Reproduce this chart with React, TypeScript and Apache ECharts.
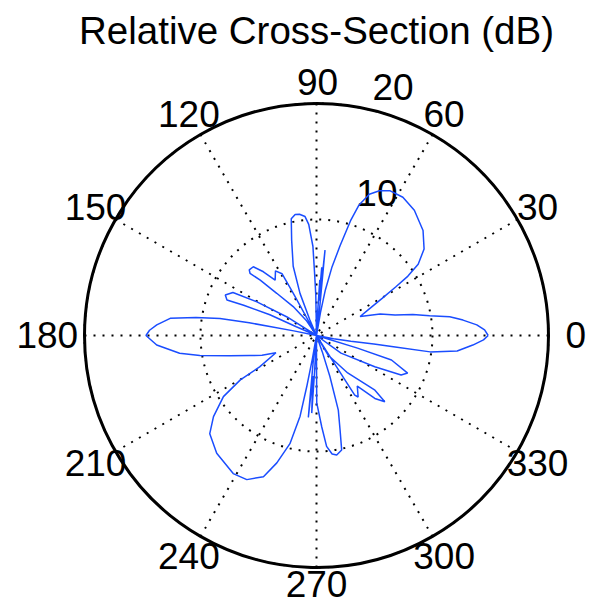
import React, { useEffect, useRef } from "react";
import * as echarts from "echarts";

const TITLE = "Relative Cross-Section (dB)";
const ANGLE_TICKS = [0, 30, 60, 90, 120, 150, 180, 210, 240, 270, 300, 330];
const RADIUS_TICKS = [10, 20];
const R_MAX = 20;

// Pattern outline, traced lobe by lobe counter-clockwise: [angle (deg), level]
const lobeEastUpper = [
  [0, 14.8], [1.9, 14.5], [3.8, 13.85], [6, 12.7], [8, 11.6], [9.9, 9.9],
  [12.3, 8.5], [14.6, 7.0], [18.7, 5.8], [23.5, 4.1],
];
const lobeNorthEast = [
  [26.5, 5.0], [29.5, 6.5], [31.5, 8.0], [33, 9.4], [35, 10.7], [38.8, 11.9],
  [44.6, 12.9], [52, 13.7], [58, 14.05], [63, 14.0], [66.5, 13.6], [69.5, 13.0],
  [72, 11.8], [73.5, 10.3], [75.3, 8.0], [77.3, 6.0], [79, 4.0], [80.2, 2.0], [81, 0],
];
const spikesNorth = [
  [83.5, 2.5], [84.3, 7.4], [84.8, 3.5], [85.6, 5.9], [86.1, 3.0], [86.6, 4.8],
  [87.5, 1.5], [89, 0],
];
const lobeNorth = [
  [91, 3.5], [91.8, 5.5], [92.3, 7.7], [94, 9.6], [95.5, 10.3], [98, 10.55],
  [100, 10.6], [102.2, 10.3], [104.6, 8.5], [108.6, 6.3], [111.4, 3.9],
  [113, 1.5], [114, 0],
];
const lobeNorthWest = [
  [118.8, 4.15], [119.2, 6.1], [122.4, 6.6], [126.8, 5.95], [129.8, 7.15],
  [132.6, 8.05], [135.7, 8.1], [136.9, 7.85], [135.5, 6.8], [133.3, 5.0],
  [128.9, 3.2], [124, 1.5], [120, 0],
];
const lobeWestNorthWest = [
  [147.8, 3.0], [150.5, 5.9], [152.8, 8.1], [156.1, 8.6], [158.4, 8.3],
  [157.4, 6.8], [156, 4.4], [156.5, 1.9], [157, 0],
];
const lobeWest = [
  [168.5, 2.0], [169, 4.1], [169.3, 5.9], [170, 8.45], [171.5, 10.5],
  [173.3, 12.7], [176.2, 13.8], [178.2, 14.4], [180, 14.7], [183.4, 13.8],
  [187.4, 11.9], [189.7, 10.2], [193.1, 7.7], [196.7, 6.0], [200, 5.0], [203, 3.8],
];
const lobeSouthWest = [
  [208.9, 5.6], [210.2, 7.6], [213.3, 9.6], [218.2, 11.3], [222.6, 12.5],
  [229.7, 13.3], [238.9, 13.9], [244.2, 13.8], [249.4, 13.0], [252.7, 11.5],
  [256.2, 9.6], [258.5, 7.1], [259.2, 4.5], [260, 2.0], [260.5, 0],
];
const spikesSouth = [
  [262.5, 2.0], [264.3, 7.1], [264.8, 3.5], [266.5, 6.7], [267, 3.0], [268, 0],
];
const lobeSouth = [
  [270, 2.0], [270.2, 5.8], [273.3, 7.9], [275.2, 9.6], [277.5, 10.3],
  [279.6, 10.45], [282.4, 10.1], [284, 8.4], [286.3, 6.7], [288.1, 3.7],
  [289.5, 1.5], [290, 0],
];
const lobeSouthEast = [
  [302.5, 2.5], [302.7, 6.1], [304.1, 6.4], [308.9, 5.6], [312.8, 7.4],
  [315.9, 8.2], [316.9, 6.9], [309.8, 4.2], [300.5, 1.95], [300, 0],
];
const lobeEastSouthEast = [
  [324.3, 2.6], [331.8, 5.7], [335, 8.05], [337.6, 8.5], [341.9, 6.8],
  [342.9, 3.7], [343.5, 0],
];
const lobeEastLower = [
  [349, 1.5], [350.5, 3.0], [351.5, 5.0], [351.7, 6.7], [351.8, 9.9],
  [353.7, 12.2], [356.5, 13.5], [358.5, 14.4], [360, 14.8],
];

const PATTERN = [
  lobeEastUpper, lobeNorthEast, spikesNorth, lobeNorth, lobeNorthWest,
  lobeWestNorthWest, lobeWest, lobeSouthWest, spikesSouth, lobeSouth,
  lobeSouthEast, lobeEastSouthEast, lobeEastLower,
];

const CX = 316.5;
const CY = 335.5;
const RADIUS = 232;
const FONT = "'Liberation Sans', Arial, Helvetica, sans-serif";
const FONT_SIZE = 37;
const TITLE_SIZE = 38.5;

// small per-label offsets (px) for the spoke labels
const SPOKE_NUDGE: Record<number, [number, number]> = {
  0: [4, 0],
  90: [1, 2],
  180: [-14, 0],
  270: [0, -6],
};
const RING_NUDGE: Record<number, [number, number]> = {
  10: [3, -9],
  20: [3, 0],
};

const dotted = { color: "#000", width: 2, type: [2, 7] as number[] };

export default function App() {
  const ref = useRef<HTMLDivElement>(null);

  useEffect(() => {
    if (!ref.current) return;
    const chart = echarts.init(ref.current, null, { renderer: "svg" });

    // series data as [radius, angle]
    const data: number[][] = [];
    PATTERN.forEach((seg) => seg.forEach(([a, r]) => data.push([r, a])));

    chart.setOption({
      animation: false,
      backgroundColor: "#fff",
      polar: { center: [CX, CY], radius: RADIUS },
      angleAxis: {
        type: "value",
        min: 0,
        max: 360,
        interval: 30,
        startAngle: 0,
        clockwise: false,
        axisLine: { show: true, lineStyle: { color: "#000", width: 3 } },
        axisTick: { show: false },
        axisLabel: { show: false },
        splitLine: { show: true, lineStyle: dotted },
      },
      radiusAxis: {
        type: "value",
        min: 0,
        max: R_MAX,
        interval: 10,
        axisLine: { show: false },
        axisTick: { show: false },
        axisLabel: { show: false },
        splitLine: { show: true, lineStyle: dotted },
      },
      series: [
        {
          type: "line",
          coordinateSystem: "polar",
          data,
          symbol: "none",
          showSymbol: false,
          silent: true,
          lineStyle: { color: "#1a4dff", width: 1.5 },
        },
      ],
    });

    const toPx = (r: number, a: number) =>
      chart.convertToPixel({ seriesIndex: 0 } as any, [r, a]) as number[];

    const texts: any[] = [];
    texts.push({
      type: "text",
      x: CX,
      y: 30,
      style: {
        text: TITLE,
        fontFamily: FONT,
        fontSize: TITLE_SIZE,
        fill: "#000",
        align: "center",
        verticalAlign: "middle",
      },
    });

    // spoke labels sit at 1.1 x the outer ring
    ANGLE_TICKS.forEach((deg) => {
      const p = toPx(R_MAX, deg);
      const n = SPOKE_NUDGE[deg] || [0, 0];
      texts.push({
        type: "text",
        x: CX + 1.1 * (p[0] - CX) + n[0],
        y: CY + 1.1 * (p[1] - CY) + n[1],
        style: {
          text: String(deg),
          fontFamily: FONT,
          fontSize: FONT_SIZE,
          fill: "#000",
          align: "center",
          verticalAlign: "middle",
        },
      });
    });

    // ring labels along the 82 degree ray
    RADIUS_TICKS.forEach((v) => {
      const p = toPx(v, 82);
      const n = RING_NUDGE[v] || [0, 0];
      texts.push({
        type: "text",
        x: p[0] + FONT_SIZE * 0.56 + n[0],
        y: p[1] + n[1],
        style: {
          text: String(v),
          fontFamily: FONT,
          fontSize: FONT_SIZE,
          fill: "#000",
          align: "left",
          verticalAlign: "bottom",
        },
      });
    });

    chart.setOption({ graphic: texts });

    return () => chart.dispose();
  }, []);

  return (
    <div
      ref={ref}
      style={{ position: "absolute", left: 0, top: 0, width: 594, height: 607 }}
    />
  );
}
